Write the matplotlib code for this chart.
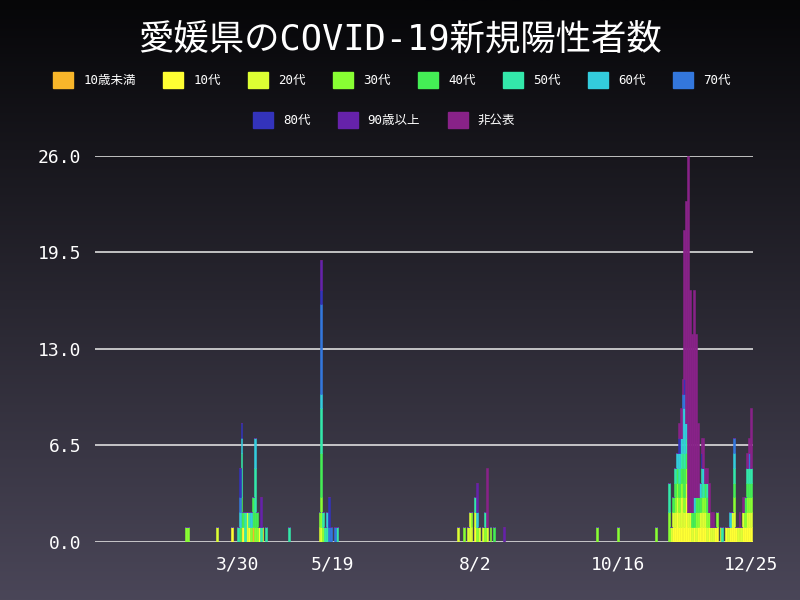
import matplotlib
matplotlib.use("Agg")
import matplotlib.pyplot as plt
import matplotlib.patches as mpatches
import numpy as np
import pandas as pd
from matplotlib.colors import LinearSegmentedColormap

categories = ["10歳未満","10代","20代","30代","40代","50代","60代","70代","80代","90歳以上","非公表"]
colors = ["#f8b62a","#ffff33","#ddff33","#88ff33","#44ee55","#33e8aa","#33ccdd","#3377dd","#3333bb","#6622aa","#882288"]

rows = [
("2020-03-03",[0,0,0,1,0,0,0,0,0,0,0]),
("2020-03-04",[0,0,0,1,0,0,0,0,0,0,0]),
("2020-03-19",[0,0,1,0,0,0,0,0,0,0,0]),
("2020-03-27",[0,1,0,0,0,0,0,0,0,0,0]),
("2020-03-30",[0,0,0,0,0,1,0,0,0,0,0]),
("2020-03-31",[0,0,0,0,1,0,1,1,2,0,0]),
("2020-04-01",[1,0,0,0,2,3,1,0,1,0,0]),
("2020-04-02",[0,1,0,0,1,0,0,0,0,0,0]),
("2020-04-03",[0,0,0,0,0,2,0,0,0,0,0]),
("2020-04-04",[0,0,2,0,0,0,0,0,0,0,0]),
("2020-04-05",[0,1,0,0,0,1,0,0,0,0,0]),
("2020-04-06",[0,0,0,1,0,0,1,0,0,0,0]),
("2020-04-07",[1,0,0,0,2,0,0,0,0,0,0]),
("2020-04-08",[0,0,0,1,1,3,2,0,0,0,0]),
("2020-04-09",[0,0,0,1,1,0,0,0,0,0,0]),
("2020-04-10",[0,1,0,0,0,0,0,0,0,0,0]),
("2020-04-11",[0,0,0,0,0,1,0,0,0,2,0]),
("2020-04-12",[0,0,1,0,0,0,0,0,0,0,0]),
("2020-04-14",[0,0,0,0,0,1,0,0,0,0,0]),
("2020-04-26",[0,0,0,0,0,1,0,0,0,0,0]),
("2020-05-12",[0,0,1,1,0,0,0,0,0,0,0]),
("2020-05-13",[0,0,1,2,3,3,1,6,1,2,0]),
("2020-05-14",[0,0,0,1,0,1,0,0,0,0,0]),
("2020-05-15",[0,0,0,0,0,1,0,0,0,0,0]),
("2020-05-16",[0,0,0,0,0,1,1,0,0,0,0]),
("2020-05-17",[0,0,0,0,0,0,0,1,2,0,0]),
("2020-05-18",[0,0,0,0,0,0,0,1,0,0,0]),
("2020-05-20",[0,0,0,0,0,0,0,1,0,0,0]),
("2020-05-21",[0,0,0,0,0,1,0,0,0,0,0]),
("2020-07-24",[0,0,1,0,0,0,0,0,0,0,0]),
("2020-07-27",[0,0,0,1,0,0,0,0,0,0,0]),
("2020-07-29",[0,0,1,0,0,0,0,0,0,0,0]),
("2020-07-30",[0,0,2,0,0,0,0,0,0,0,0]),
("2020-07-31",[0,0,1,1,0,0,0,0,0,0,0]),
("2020-08-02",[0,1,1,0,0,1,0,0,0,0,0]),
("2020-08-03",[0,0,0,1,0,0,1,0,0,2,0]),
("2020-08-04",[0,0,1,0,0,0,0,0,0,0,0]),
("2020-08-06",[0,0,1,0,0,0,0,0,0,0,0]),
("2020-08-07",[0,0,0,1,0,1,0,0,0,0,0]),
("2020-08-08",[0,0,1,0,0,0,0,0,0,0,4]),
("2020-08-10",[0,0,0,1,0,0,0,0,0,0,0]),
("2020-08-12",[0,0,0,0,1,0,0,0,0,0,0]),
("2020-08-17",[0,0,0,0,0,0,0,0,0,1,0]),
("2020-10-05",[0,0,0,1,0,0,0,0,0,0,0]),
("2020-10-16",[0,0,0,1,0,0,0,0,0,0,0]),
("2020-11-05",[0,0,0,1,0,0,0,0,0,0,0]),
("2020-11-12",[0,0,0,2,0,2,0,0,0,0,0]),
("2020-11-13",[0,0,1,0,0,0,0,0,0,0,0]),
("2020-11-14",[0,1,1,0,1,0,0,0,0,0,0]),
("2020-11-15",[0,1,1,1,1,1,0,0,0,0,0]),
("2020-11-16",[0,2,1,1,1,0,1,0,0,0,0]),
("2020-11-17",[0,1,1,1,1,1,1,0,1,0,1]),
("2020-11-18",[0,1,2,1,1,1,1,0,0,0,2]),
("2020-11-19",[0,2,1,1,2,1,2,1,0,0,1]),
("2020-11-20",[0,1,1,1,2,1,3,1,1,0,10]),
("2020-11-21",[0,3,1,1,1,1,1,0,0,0,15]),
("2020-11-22",[0,1,1,0,0,0,0,0,0,0,24]),
("2020-11-23",[0,1,1,0,0,0,0,0,0,0,15]),
("2020-11-24",[0,0,1,0,1,0,0,0,0,0,12]),
("2020-11-25",[0,1,0,0,1,0,1,0,0,0,14]),
("2020-11-26",[0,0,1,1,1,0,0,0,0,0,11]),
("2020-11-27",[0,1,0,1,1,0,0,0,0,0,5]),
("2020-11-28",[0,1,1,0,1,0,1,0,0,0,0]),
("2020-11-29",[0,1,1,1,1,1,0,0,1,0,1]),
("2020-11-30",[0,1,1,1,0,1,1,0,0,0,2]),
("2020-12-01",[0,1,1,1,1,0,0,0,0,0,1]),
("2020-12-02",[0,0,1,1,1,1,0,0,0,0,1]),
("2020-12-03",[0,1,0,1,0,0,0,0,0,0,2]),
("2020-12-04",[0,0,1,0,0,0,0,0,0,0,1]),
("2020-12-05",[0,0,1,0,0,0,0,0,0,0,1]),
("2020-12-06",[0,1,0,0,0,0,0,0,0,0,0]),
("2020-12-07",[0,1,0,1,0,0,0,0,0,0,0]),
("2020-12-09",[0,0,1,0,0,0,0,0,0,0,0]),
("2020-12-10",[0,0,0,0,0,1,0,0,0,0,0]),
("2020-12-12",[0,1,0,0,0,0,0,0,0,0,0]),
("2020-12-13",[0,0,1,0,0,0,0,0,0,0,0]),
("2020-12-14",[0,1,0,0,0,0,1,0,0,0,0]),
("2020-12-15",[0,1,1,0,0,0,0,0,0,0,0]),
("2020-12-16",[0,1,1,1,1,1,1,1,0,0,0]),
("2020-12-17",[0,1,0,0,0,0,0,0,0,0,0]),
("2020-12-18",[0,0,1,0,0,0,0,0,0,0,0]),
("2020-12-19",[0,1,0,0,0,0,0,0,0,0,1]),
("2020-12-20",[0,0,1,0,0,0,0,0,0,0,0]),
("2020-12-21",[0,1,1,0,0,0,0,0,0,0,1]),
("2020-12-22",[0,1,0,1,1,0,0,0,0,0,0]),
("2020-12-23",[0,1,1,1,1,1,0,0,0,0,1]),
("2020-12-24",[0,1,1,1,1,1,0,1,0,0,1]),
("2020-12-25",[0,1,1,1,1,1,0,0,0,0,4]),
]
tick_dates = ["2020-03-30","2020-05-19","2020-08-02","2020-10-16","2020-12-25"]
tick_labels = ["3/30","5/19","8/2","10/16","12/25"]
yticks = [0.0, 6.5, 13.0, 19.5, 26.0]

fam = ["DejaVu Sans Mono", "Noto Sans CJK JP"]
plt.rcParams['font.family'] = fam

dates = pd.to_datetime([r[0] for r in rows])
vals = np.array([r[1] for r in rows], dtype=float)

fig = plt.figure(figsize=(8, 6), dpi=100)
bg = fig.add_axes([0, 0, 1, 1], zorder=-10)
grad = np.linspace(0, 1, 256).reshape(-1, 1)
cm = LinearSegmentedColormap.from_list("bg", ["#060608", "#4a4658"])
bg.imshow(grad, aspect="auto", cmap=cm, extent=[0, 1, 0, 1], origin="upper")
bg.axis("off")

ax = fig.add_axes([0.119, 0.0967, 0.822, 0.6433])
ax.patch.set_alpha(0)
bottom = np.zeros(len(rows))
for i, c in enumerate(categories):
    ax.bar(dates, vals[:, i], bottom=bottom, width=1.0, color=colors[i],
           edgecolor=colors[i], linewidth=0.4)
    bottom += vals[:, i]
ax.set_ylim(0, 26)
ax.set_xlim(pd.Timestamp("2020-01-15"), pd.Timestamp("2020-12-26"))
ax.set_yticks(yticks)
ax.set_yticklabels([f"{v:.1f}" for v in yticks], color="white", fontsize=13)
ax.set_xticks(pd.to_datetime(tick_dates))
ax.set_xticklabels(tick_labels, color="white", fontsize=13)
ax.tick_params(length=0, pad=10)
ax.grid(axis="y", color="#dddddd", linewidth=1.2)
ax.set_axisbelow(True)
for s in ax.spines.values():
    s.set_visible(False)

fig.text(0.5, 0.935, "愛媛県のCOVID-19新規陽性者数", ha="center", va="center", color="white", fontsize=25.5, family=fam)

handles = [mpatches.Patch(color=colors[i], label=categories[i]) for i in range(len(categories))]
fig.legend(handles=handles[:8], loc="center", bbox_to_anchor=(0.49, 0.867), ncol=8, frameon=False,
           fontsize=9, labelcolor="white", handlelength=1.6, handleheight=1.6, columnspacing=2.2)
fig.legend(handles=handles[8:], loc="center", bbox_to_anchor=(0.48, 0.8), ncol=3, frameon=False,
           fontsize=9, labelcolor="white", handlelength=1.6, handleheight=1.6, columnspacing=2.2)
fig.savefig("out.png", dpi=100)
